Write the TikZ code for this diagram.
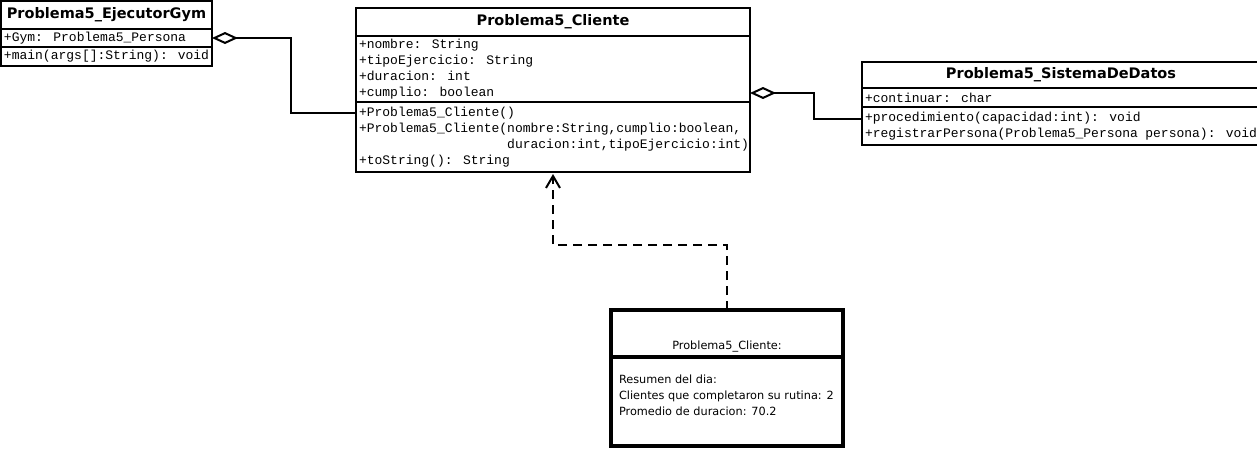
\documentclass[tikz,border=0pt]{standalone}
\usepackage{fontspec}
\setmainfont{DejaVu Sans}
\newfontfamily\umlmono{Liberation Mono}
\newcommand\umlmembers{\umlmono\fontsize{13}{16}\selectfont}
\usetikzlibrary{arrows.meta}

\begin{document}
\begin{tikzpicture}[
            x=1pt, y=1pt,
            part/.style={rectangle, draw, line width=2pt, outer sep=0pt, inner xsep=3pt,
                         inner ysep=0pt, anchor=north west},
            classtitle/.style={part, align=center, font=\fontsize{14.5}{17}\selectfont\bfseries},
            members/.style={part, align=flush left, font=\umlmembers},
            objtitle/.style={rectangle, draw, line width=4pt, outer sep=0pt, inner xsep=8pt,
                             inner ysep=4.5pt, anchor=north west, align=center,
                             text width=216pt, text height=35pt, text depth=3pt,
                             font=\fontsize{11.3}{16}\selectfont},
            objbody/.style={objtitle, align=flush left, text height=, text depth=, inner ysep=0pt,
                            minimum height=89pt},
            agg/.style={{Diamond[open, length=26pt, width=12pt]}-, line width=2pt},
            dep/.style={-{Straight Barb[length=12pt, width=14pt]}, line width=2pt,
                        dash pattern=on 9pt off 6pt, shorten >=2pt}
        ]

        \useasboundingbox (0,0) rectangle (1257,-448);

        % ===== Problema5_EjecutorGym =====
        \node[classtitle, text width=205pt, minimum height=28pt] (ejec) at (1,-1) {Problema5\_EjecutorGym};
        \node[members, text width=205pt, minimum height=18pt] (ejec_attr) at (ejec.south west) {+Gym: Problema5\_Persona};
        \node[members, text width=205pt, minimum height=19pt] (ejec_meth) at (ejec_attr.south west) {+main(args[]:String): void};

        % ===== Problema5_Cliente =====
        \node[classtitle, text width=388pt, minimum height=28pt] (cli) at (356,-8) {Problema5\_Cliente};
        \node[members, text width=388pt, minimum height=66pt] (cli_attr) at (cli.south west)
            {+nombre: String\\+tipoEjercicio: String\\+duracion: int\\+cumplio: boolean};
        \node[members, text width=388pt, minimum height=70pt] (cli_meth) at (cli_attr.south west)
            {+Problema5\_Cliente()\\
             +Problema5\_Cliente(nombre:String,cumplio:boolean,\\
             \phantom{+Problema5\_Cliente(}duracion:int,tipoEjercicio:int)\\
             +toString(): String};

        % ===== Problema5_SistemaDeDatos (runs off the right edge) =====
        \node[classtitle, text width=392pt, minimum height=26pt] (sis) at (862,-62) {Problema5\_SistemaDeDatos};
        \node[members, text width=392pt, minimum height=19pt] (sis_attr) at (sis.south west) {+continuar: char};
        \node[members, text width=392pt, minimum height=38pt] (sis_meth) at (sis_attr.south west)
            {+procedimiento(capacidad:int): void\\+registrarPersona(Problema5\_Persona persona): void};

        % ===== object / console output =====
        \node[objtitle] (obj) at (611,-310) {Problema5\_Cliente:};
        \node[objbody] (obj_body) at (obj.south west)
            {Resumen del dia:\\Clientes que completaron su rutina: 2\\Promedio de duracion: 70.2\\[-8pt] \strut};

        % ===== ARROWS =====
        % aggregations
        \draw[agg] (ejec_attr.east) -- ++(79,0) |- ([yshift=-11pt]cli_meth.north west);
        \draw[agg] ([yshift=9pt]cli_attr.south east) -- ++(64,0) |- ([yshift=-12pt]sis_meth.north west);

        % dependency up to the class
        \draw[dep] (obj.north) -- ++(0,65) -| (cli_meth.south);

\end{tikzpicture}
\end{document}
